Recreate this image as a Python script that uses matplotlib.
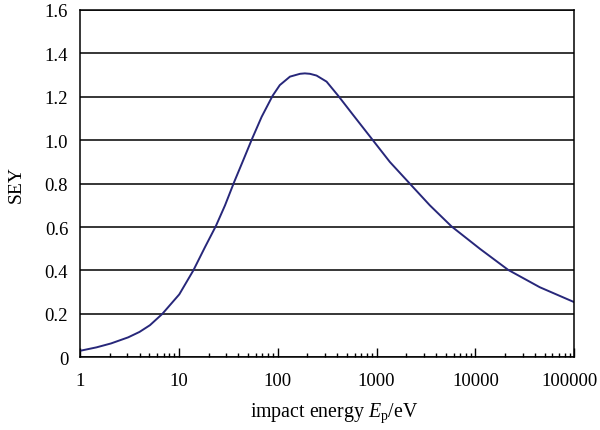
import numpy as np
import matplotlib
matplotlib.use("Agg")
import matplotlib.pyplot as plt
import matplotlib.transforms as mtransforms
from matplotlib.ticker import FixedLocator, LogLocator, NullFormatter

plt.rcParams['font.family'] = ['Liberation Serif', 'DejaVu Serif']
plt.rcParams['mathtext.fontset'] = 'custom'
plt.rcParams['mathtext.rm'] = 'Liberation Serif'
plt.rcParams['mathtext.it'] = 'Liberation Serif:italic'

# values
energy = [1, 1.47, 2.06, 3.07, 4.0, 5.1, 6.8, 10.1, 14.0, 18.4, 23.7, 29.3,
          36.3, 44.8, 55.2, 68.8, 88.8, 105, 133, 168, 188, 212, 247, 312,
          409, 580, 889, 1362, 2090, 3460, 5730, 11090, 21400, 44700, 100000]
sey = [0.030, 0.046, 0.064, 0.092, 0.117, 0.148, 0.200, 0.290, 0.400, 0.508,
       0.605, 0.700, 0.808, 0.908, 1.008, 1.108, 1.205, 1.254, 1.293, 1.306,
       1.308, 1.306, 1.298, 1.270, 1.205, 1.116, 1.008, 0.900, 0.808, 0.700,
       0.603, 0.500, 0.403, 0.323, 0.254]

xticks = [1, 10, 100, 1000, 10000, 100000]
xlabels = ["1", "10", "100", "1000", "10000", "100000"]
yticks = [0, 0.2, 0.4, 0.6, 0.8, 1.0, 1.2, 1.4, 1.6]
ylabels = ["0", "0.2", "0.4", "0.6", "0.8", "1.0", "1.2", "1.4", "1.6"]

fig = plt.figure(figsize=(6, 4.31), dpi=100)
ax = fig.add_axes([0.1333, 0.1686, 0.8239, 0.8059])

ax.plot(energy, sey, color="#27277a", lw=1.4, solid_joinstyle="round")

ax.set_xscale("log")
ax.set_xlim(1, 100000)
ax.set_ylim(0, 1.6)

ax.xaxis.set_major_locator(FixedLocator(xticks))
ax.set_xticklabels(xlabels)
ax.xaxis.set_minor_locator(LogLocator(base=10, subs=np.arange(2, 10)))
ax.xaxis.set_minor_formatter(NullFormatter())
ax.set_yticks(yticks)
ax.set_yticklabels(ylabels)

ax.tick_params(axis="x", which="major", direction="in", length=6.5, width=1,
               pad=10.5, labelsize=13.5)
ax.tick_params(axis="x", which="minor", direction="in", length=3, width=1)
ax.tick_params(axis="y", length=0, pad=8.5, labelsize=13.5)

# last label sits a bit left so it stays inside the picture
last = ax.get_xticklabels()[-1]
last.set_transform(last.get_transform() +
                   mtransforms.ScaledTranslation(-5 / 100, 0, fig.dpi_scale_trans))

ax.yaxis.grid(True, color="black", lw=1.1)
ax.set_axisbelow(True)
for s in ax.spines.values():
    s.set_linewidth(1.1)
    s.set_color("black")

ax.set_xlabel("impact energy $E_\\mathrm{p}$/eV", fontsize=14.3)
ax.xaxis.set_label_coords(0.514, -0.125)
ax.set_ylabel("SEY", fontsize=14, labelpad=14)

fig.savefig("out.png", dpi=100)
